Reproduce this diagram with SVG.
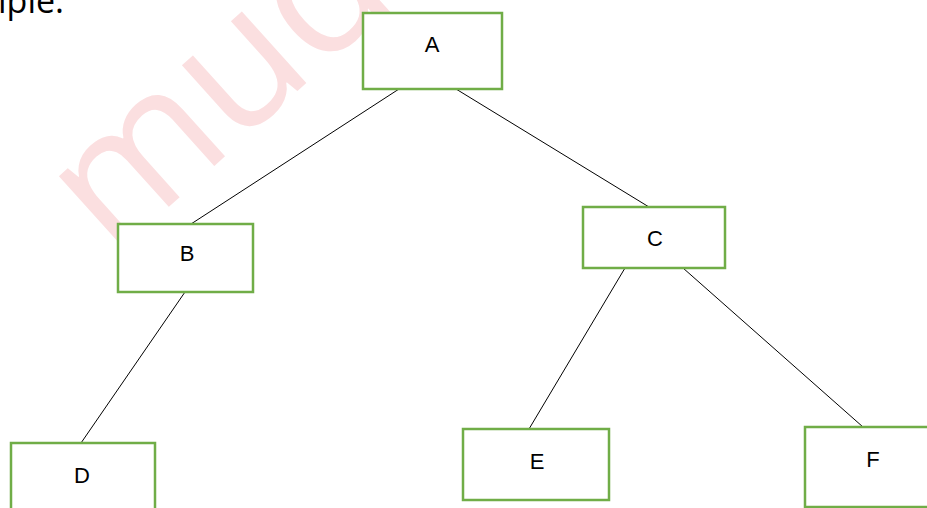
<svg xmlns="http://www.w3.org/2000/svg" width="927" height="508" viewBox="0 0 927 508">
  <style>
    .box { fill: #ffffff; stroke: #70AD47; stroke-width: 2.5; }
    .lbl { font-family: "Liberation Sans", Arial, sans-serif; font-size: 22px; fill: #000000; text-anchor: middle; }
    .edge { stroke: #000000; stroke-width: 1; fill: none; }
  </style>
  <rect x="0" y="0" width="927" height="508" fill="#ffffff"/>
  <text x="112" y="258" transform="rotate(-42 112 258)" font-family="'Open Sans', sans-serif" font-size="180" fill="#FBDFE0">muq</text>
  <text x="-2" y="13" font-family="'Open Sans', sans-serif" font-size="34" fill="#000000">iple:</text>
  <g id="connectors">
    <line class="edge" x1="399" y1="89" x2="191" y2="224"/>
    <line class="edge" x1="456" y1="89" x2="649" y2="207"/>
    <line class="edge" x1="185" y1="292" x2="81" y2="443"/>
    <line class="edge" x1="625" y1="268" x2="529" y2="429"/>
    <line class="edge" x1="683" y1="268" x2="863" y2="427"/>
  </g>
  <g id="node-A">
    <rect class="box" x="363" y="13" width="139" height="76"/>
    <text class="lbl" x="432" y="52">A</text>
  </g>
  <g id="node-B">
    <rect class="box" x="118" y="224" width="135" height="68"/>
    <text class="lbl" x="187" y="261">B</text>
  </g>
  <g id="node-C">
    <rect class="box" x="583" y="207" width="142" height="61"/>
    <text class="lbl" x="655" y="246">C</text>
  </g>
  <g id="node-D">
    <rect class="box" x="11" y="443" width="144" height="80"/>
    <text class="lbl" x="82" y="483">D</text>
  </g>
  <g id="node-E">
    <rect class="box" x="463" y="429" width="146" height="71"/>
    <text class="lbl" x="537" y="469">E</text>
  </g>
  <g id="node-F">
    <rect class="box" x="805" y="427" width="140" height="80"/>
    <text class="lbl" x="873" y="467">F</text>
  </g>
</svg>
